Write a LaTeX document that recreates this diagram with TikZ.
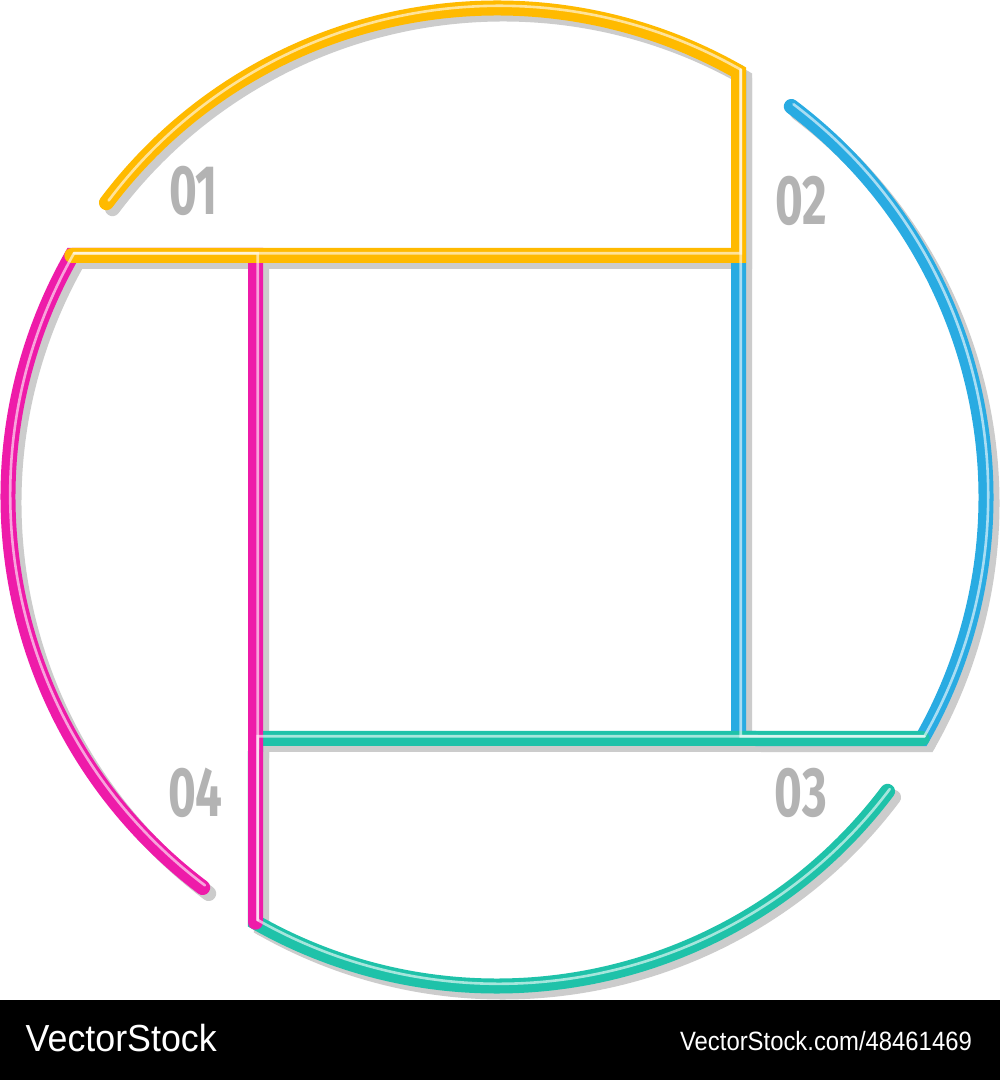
\documentclass[tikz,border=0pt]{standalone}
\usepackage{fontspec}
\setmainfont{Liberation Sans}
\newfontfamily\numfont{Fira Sans}
\definecolor{cyel}{HTML}{FFBA00}
\definecolor{cblu}{HTML}{29ABE2}
\definecolor{cteal}{HTML}{1FC2A9}
\definecolor{cpink}{HTML}{EE1BA9}
\definecolor{cshadow}{HTML}{CCCCCC}
\definecolor{cnum}{HTML}{B3B3B3}
\newcommand\pathYel{(143:489) arc[start angle=143, end angle=60.4, radius=489] -- (241.5,241.5) -- (-425.2,241.5)}
\newcommand\pathBlu{(53:489) arc[start angle=53, end angle=-29.6, radius=489] -- (241.5,-241.5) -- (241.5,425.2)}
\newcommand\pathTeal{(-37:489) arc[start angle=-37, end angle=-119.6, radius=489] -- (-241.5,-241.5) -- (425.2,-241.5)}
\newcommand\pathPink{(-127:489) arc[start angle=-127, end angle=-209.6, radius=489] -- (-241.5,241.5) -- (-241.5,-425.2)}
\tikzset{
  band/.style={line width=15pt, line cap=round, line join=miter},
  shadowband/.style={band, draw=cshadow},
  stripe/.style={line width=2.6pt, line cap=round, line join=miter, draw=white, draw opacity=0.6},
  numst/.style={inner sep=0pt, text=cnum, font=\numfont\bfseries\fontsize{70}{70}\selectfont},
  wm/.style={inner sep=0pt, text=white}
}
\begin{document}
\begin{tikzpicture}[x=1pt,y=1pt]
\useasboundingbox (0,0) rectangle (1000,1080);
\fill[white] (0,80) rectangle (1000,1080);
\fill[black] (0,0) rectangle (1000,80);
% shadows
\begin{scope}[shift={(503,577)}]
  \draw[shadowband] \pathBlu;
  \draw[shadowband] \pathTeal;
  \draw[shadowband] \pathPink;
  \draw[shadowband] \pathYel;
\end{scope}
% colored bands
\begin{scope}[shift={(497,583)}]
  \draw[band, draw=cblu] \pathBlu;
  \draw[band, draw=cteal] \pathTeal;
  \draw[band, draw=cpink] \pathPink;
  \draw[band, draw=cyel] \pathYel;
\end{scope}
% highlights
\begin{scope}[shift={(499.2,585.2)}]
  \draw[stripe] \pathBlu;
  \draw[stripe] \pathTeal;
  \draw[stripe] \pathPink;
  \draw[stripe] \pathYel;
\end{scope}
% numbers
\node[numst] (n1) at (193.5,889) {\scalebox{0.68}[1]{01}};
\node[numst] (n2) at (801,879) {\scalebox{0.68}[1]{02}};
\node[numst] (n3) at (801,287.5) {\scalebox{0.68}[1]{03}};
\node[numst] (n4) at (195.5,287) {\scalebox{0.68}[1]{04}};
% watermark
\node[wm, anchor=base west, font=\fontsize{37.7}{38}\selectfont] (w1) at (25.5,28) {\scalebox{0.95}[1]{VectorStock}};
\node[wm, anchor=base east, font=\fontsize{26.5}{27}\selectfont] (w2) at (972,29) {\scalebox{0.9}[1]{VectorStock.com/48461469}};
\end{tikzpicture}
\end{document}
